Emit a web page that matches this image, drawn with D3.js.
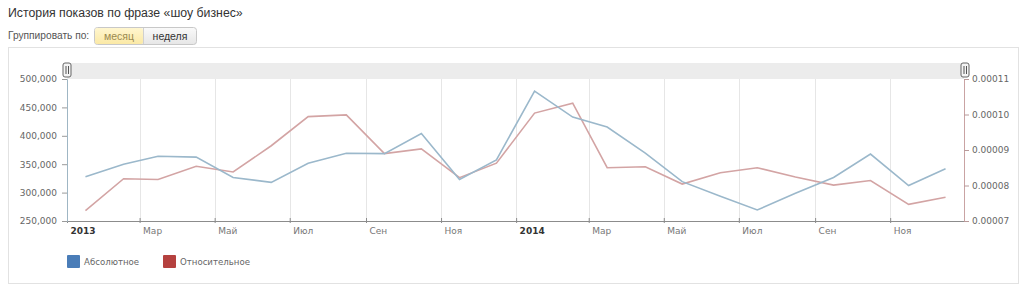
<!DOCTYPE html>
<html>
<head>
<meta charset="utf-8">
<script src="https://cdn.jsdelivr.net/npm/d3@7"></script>
<style>
  body { margin: 0; background: #fff; }
  svg { display: block; }
</style>
</head>
<body>
<svg id="chart" width="1024" height="285"></svg>
<script>
// monthly data, 2013-01 .. 2014-12
const months = ['2013-01','2013-02','2013-03','2013-04','2013-05','2013-06','2013-07','2013-08','2013-09','2013-10','2013-11','2013-12',
                '2014-01','2014-02','2014-03','2014-04','2014-05','2014-06','2014-07','2014-08','2014-09','2014-10','2014-11','2014-12'];
const absoluteValues = [328000, 350000, 364000, 362500, 326700, 318000, 351600, 369300, 368700, 404000, 323000, 357600,
                        478800, 432900, 415500, 369600, 319300, 293600, 269400, 298900, 326700, 367800, 312500, 341900];
const relativeValues = [0.0000729, 0.0000819, 0.0000817, 0.0000854, 0.0000838, 0.0000912, 0.0000994, 0.0000999, 0.0000890, 0.0000903, 0.0000822, 0.0000863,
                        0.0001004, 0.0001032, 0.0000850, 0.0000853, 0.0000804, 0.0000836, 0.0000850, 0.0000824, 0.0000801, 0.0000814, 0.0000747, 0.0000767];
const leftTicks = [250000, 300000, 350000, 400000, 450000, 500000];
const rightTicks = [0.00007, 0.00008, 0.00009, 0.00010, 0.00011];
const monthNames = ['Янв','Фев','Мар','Апр','Май','Июн','Июл','Авг','Сен','Окт','Ноя','Дек'];
const seriesNames = ['Абсолютное', 'Относительное'];

const PLOT = { left: 67, right: 964, top: 79, bottom: 221 };
const BLUE_LINE = '#9bb8cb';
const RED_LINE = '#d3a4a4';

const svg = d3.select('#chart');
const parseMonth = d3.timeParse('%Y-%m-%d');
const dates = months.map(m => parseMonth(m + '-16'));

// header
svg.append('text')
  .attr('x', 8).attr('y', 17)
  .style('font', '12.3px "Liberation Sans", Arial, sans-serif')
  .attr('fill', '#333')
  .text('История показов по фразе «шоу бизнес»');

svg.append('text')
  .attr('x', 8).attr('y', 39)
  .style('font', '10.2px "Liberation Sans", Arial, sans-serif')
  .attr('fill', '#555')
  .text('Группировать по:');

const defs = svg.append('defs');
const gY = defs.append('linearGradient').attr('id', 'btnYellow').attr('x1', 0).attr('x2', 0).attr('y1', 0).attr('y2', 1);
gY.append('stop').attr('offset', 0).attr('stop-color', '#fff6cf');
gY.append('stop').attr('offset', 1).attr('stop-color', '#fbe9a6');
const gG = defs.append('linearGradient').attr('id', 'btnGray').attr('x1', 0).attr('x2', 0).attr('y1', 0).attr('y2', 1);
gG.append('stop').attr('offset', 0).attr('stop-color', '#fafafa');
gG.append('stop').attr('offset', 1).attr('stop-color', '#e6e6e6');

svg.append('rect').attr('x', 94.5).attr('y', 27.5).attr('width', 102).attr('height', 17).attr('rx', 3)
  .attr('fill', 'url(#btnGray)').attr('stroke', '#c8c8c8');
svg.append('rect').attr('x', 95).attr('y', 28).attr('width', 48).attr('height', 16).attr('rx', 2)
  .attr('fill', 'url(#btnYellow)');
svg.append('line').attr('x1', 143.5).attr('x2', 143.5).attr('y1', 28).attr('y2', 44).attr('stroke', '#d0d0d0');
svg.append('text').attr('x', 119).attr('y', 40).attr('text-anchor', 'middle')
  .style('font', '10.5px "Liberation Sans", Arial, sans-serif').attr('fill', '#9a8a50').text('месяц');
svg.append('text').attr('x', 170).attr('y', 40).attr('text-anchor', 'middle')
  .style('font', '10.5px "Liberation Sans", Arial, sans-serif').attr('fill', '#333').text('неделя');

// frame
svg.append('rect').attr('x', 8.5).attr('y', 47.5).attr('width', 1010).attr('height', 236)
  .attr('fill', 'none').attr('stroke', '#e2e2e2');

// navigator band
svg.append('rect').attr('x', PLOT.left).attr('y', 63).attr('width', PLOT.right - PLOT.left).attr('height', 16)
  .attr('fill', '#ececec');

// scales
const x = d3.scaleTime()
  .domain([new Date(2013, 0, 1), new Date(2014, 11, 31)])
  .range([PLOT.left, PLOT.right]);
const yLeft = d3.scaleLinear().domain([250000, 500000]).range([PLOT.bottom, PLOT.top]);
const yRight = d3.scaleLinear().domain([0.00007, 0.00011]).range([PLOT.bottom, PLOT.top]);

const xTicks = x.ticks(d3.timeMonth.every(2));

// grid
svg.append('g').selectAll('line')
  .data(xTicks.slice(1))
  .join('line')
  .attr('x1', d => Math.round(x(d)) + 0.5).attr('x2', d => Math.round(x(d)) + 0.5)
  .attr('y1', PLOT.top).attr('y2', PLOT.bottom)
  .attr('stroke', '#e6e6e6');

// x axis
const fmtTick = d => d.getMonth() === 0 ? d3.timeFormat('%Y')(d) : monthNames[d.getMonth()];
const xAxis = svg.append('g')
  .attr('transform', `translate(0,${PLOT.bottom})`)
  .call(d3.axisBottom(x).tickValues(xTicks).tickFormat(fmtTick).tickSizeInner(-3).tickSizeOuter(0));
xAxis.select('.domain').attr('stroke', '#8c8c8c');
xAxis.selectAll('.tick line').attr('stroke', '#8c8c8c').attr('y1', 2);
xAxis.selectAll('.tick text')
  .attr('text-anchor', 'start').attr('x', 3).attr('y', 7).attr('dy', '0.71em')
  .attr('fill', d => d.getMonth() === 0 ? '#333' : '#777')
  .style('font', d => (d.getMonth() === 0 ? 'bold ' : '') + '9px "DejaVu Sans", Verdana, sans-serif');

// left axis
const leftAxis = svg.append('g')
  .attr('transform', `translate(${PLOT.left},0)`)
  .call(d3.axisLeft(yLeft).tickValues(leftTicks).tickFormat(d3.format(',')).tickSize(5).tickPadding(5));
leftAxis.select('.domain').attr('stroke', '#9fb6c4');
leftAxis.selectAll('.tick line').attr('stroke', '#9a9a9a');
leftAxis.selectAll('.tick text').attr('fill', '#666')
  .style('font', '9px "DejaVu Sans", Verdana, sans-serif');

// right axis
const rightAxis = svg.append('g')
  .attr('transform', `translate(${PLOT.right},0)`)
  .call(d3.axisRight(yRight).tickValues(rightTicks).tickFormat(d3.format('.5f')).tickSize(5).tickPadding(3));
rightAxis.select('.domain').attr('stroke', '#c9a3a3');
rightAxis.selectAll('.tick line').attr('stroke', '#b89a9a');
rightAxis.selectAll('.tick text').attr('fill', '#666')
  .style('font', '9px "DejaVu Sans", Verdana, sans-serif');

// lines
const absLine = d3.line().x((d, i) => x(dates[i])).y(d => yLeft(d));
const relLine = d3.line().x((d, i) => x(dates[i])).y(d => yRight(d));

svg.append('path').datum(relativeValues)
  .attr('d', relLine).attr('fill', 'none').attr('stroke', RED_LINE).attr('stroke-width', 1.6);
svg.append('path').datum(absoluteValues)
  .attr('d', absLine).attr('fill', 'none').attr('stroke', BLUE_LINE).attr('stroke-width', 1.6);

// navigator handles
[PLOT.left, PLOT.right + 1].forEach(hx => {
  const h = svg.append('g').attr('transform', `translate(${hx},70)`);
  h.append('rect').attr('x', -4).attr('y', -7).attr('width', 8).attr('height', 14).attr('rx', 2)
    .attr('fill', '#f4f4f4').attr('stroke', '#666');
  h.append('line').attr('x1', -1).attr('x2', -1).attr('y1', -4).attr('y2', 4).attr('stroke', '#555');
  h.append('line').attr('x1', 1.5).attr('x2', 1.5).attr('y1', -4).attr('y2', 4).attr('stroke', '#555');
});

// legend
const legendColors = ['#4a7db8', '#b5413f'];
const legendX = [67, 163];
const legend = svg.append('g').selectAll('g')
  .data(seriesNames)
  .join('g')
  .attr('transform', (d, i) => `translate(${legendX[i]},255)`);
legend.append('rect').attr('width', 13).attr('height', 13).attr('rx', 1)
  .attr('fill', (d, i) => legendColors[i]);
legend.append('text').attr('x', 17).attr('y', 10)
  .style('font', '8.6px "DejaVu Sans", Verdana, sans-serif').attr('fill', '#666')
  .text(d => d);
</script>
</body>
</html>
